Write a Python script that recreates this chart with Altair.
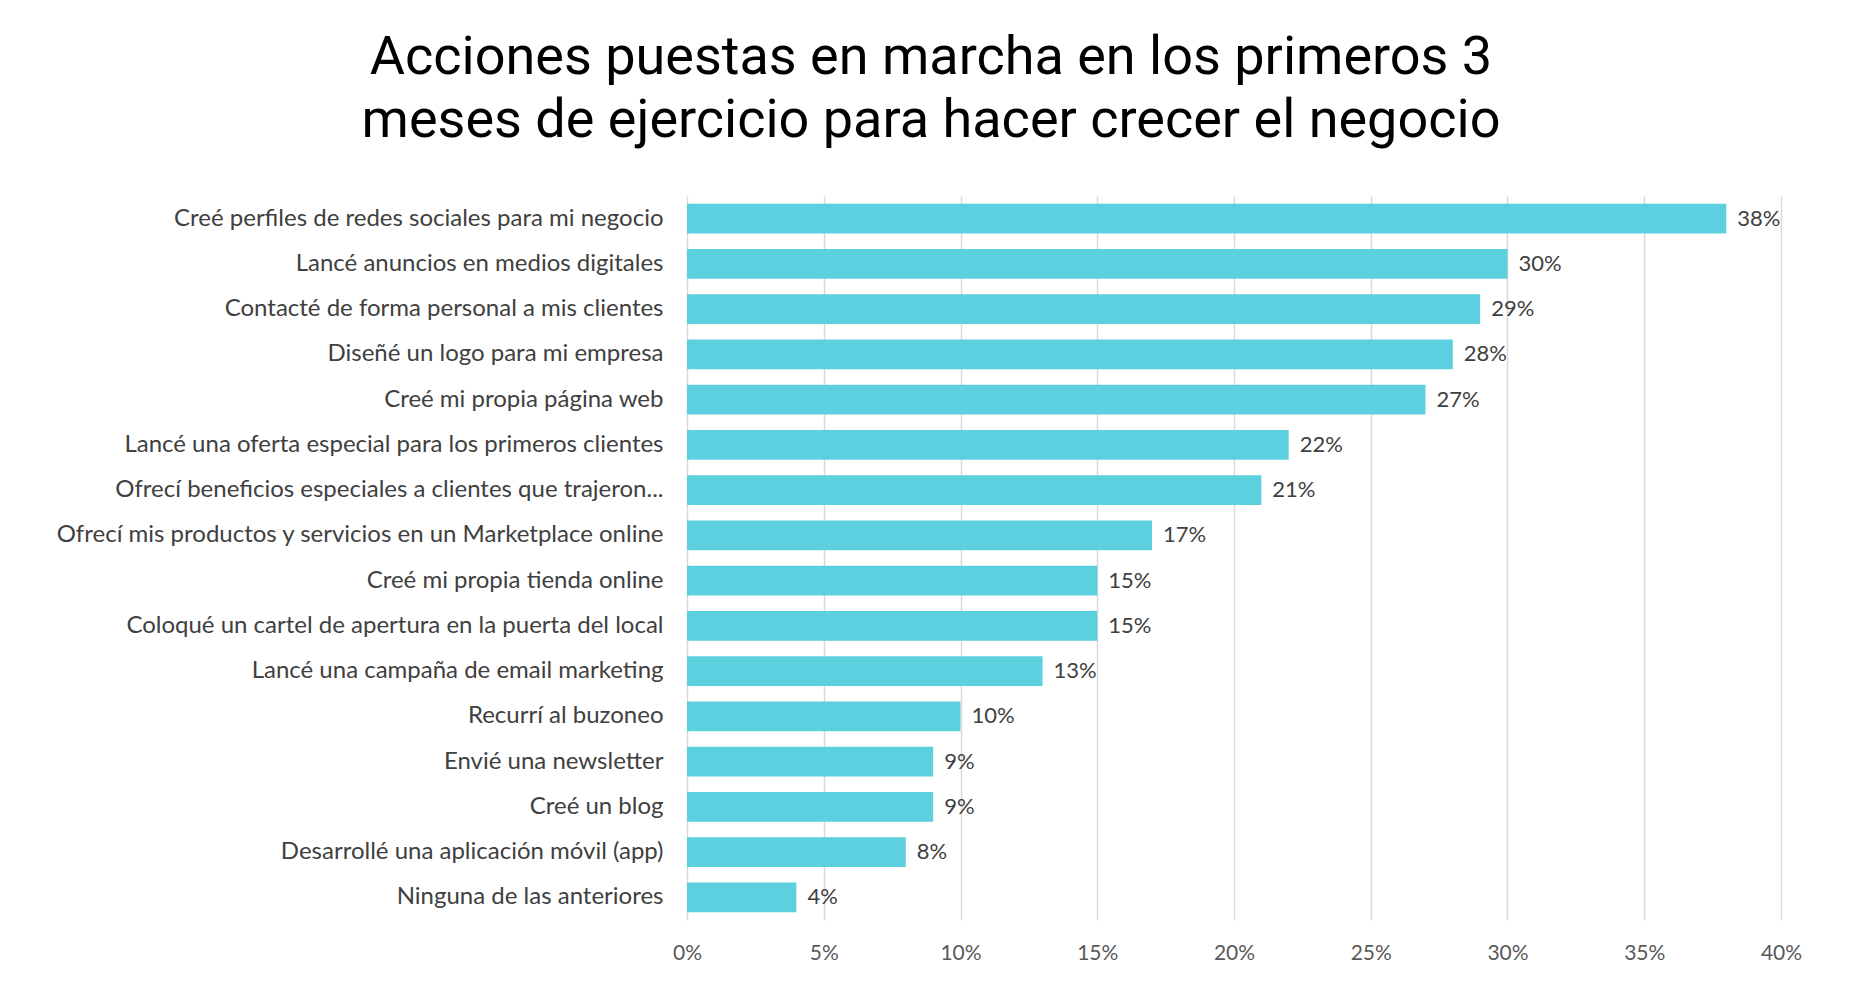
import altair as alt
import pandas as pd

categories = [
    "Creé perfiles de redes sociales para mi negocio",
    "Lancé anuncios en medios digitales",
    "Contacté de forma personal a mis clientes",
    "Diseñé un logo para mi empresa",
    "Creé mi propia página web",
    "Lancé una oferta especial para los primeros clientes",
    "Ofrecí beneficios especiales a clientes que trajeron...",
    "Ofrecí mis productos y servicios en un Marketplace online",
    "Creé mi propia tienda online",
    "Coloqué un cartel de apertura en la puerta del local",
    "Lancé una campaña de email marketing",
    "Recurrí al buzoneo",
    "Envié una newsletter",
    "Creé un blog",
    "Desarrollé una aplicación móvil (app)",
    "Ninguna de las anteriores",
]
values = [0.38, 0.30, 0.29, 0.28, 0.27, 0.22, 0.21, 0.17, 0.15, 0.15, 0.13, 0.10, 0.09, 0.09, 0.08, 0.04]
x_ticks = [0, 0.05, 0.10, 0.15, 0.20, 0.25, 0.30, 0.35, 0.40]

df = pd.DataFrame({"accion": categories, "valor": values})

y_enc = alt.Y(
    "accion:N",
    sort=categories,
    title=None,
    scale=alt.Scale(paddingInner=0.34, paddingOuter=0.17),
    axis=alt.Axis(
        labelFont="Lato", labelFontSize=24, labelColor="#404040",
        labelPadding=24, labelLimit=800, ticks=False, domain=False, grid=False,
    ),
)
x_enc = alt.X(
    "valor:Q",
    title=None,
    scale=alt.Scale(domain=[0, 0.4], nice=False),
    axis=alt.Axis(
        values=x_ticks, format=".0%", labelFont="Lato", labelFontSize=21,
        labelColor="#595959", labelPadding=22, labelFlush=False, ticks=False,
        domain=False, grid=True, gridColor="#D9D9D9", gridWidth=1.5,
    ),
)

bars = alt.Chart(df).mark_bar(color="#5DD0DF").encode(x=x_enc, y=y_enc)
labels = alt.Chart(df).mark_text(
    align="left", baseline="middle", dx=11, font="Lato", fontSize=22, color="#404040"
).encode(
    x=alt.X("valor:Q"),
    y=alt.Y("accion:N", sort=categories),
    text=alt.Text("valor:Q", format=".0%"),
)

chart = (bars + labels).properties(
    width=1094,
    height=724,
    autosize=alt.AutoSizeParams(type="none"),
    padding={"left": 679, "top": 188, "right": 73, "bottom": 62},
    title=alt.TitleParams(
        text=["Acciones puestas en marcha en los primeros 3",
              "meses de ejercicio para hacer crecer el negocio"],
        font="Roboto", fontSize=54, fontWeight="normal", color="#000000",
        anchor="middle", frame="group", dx=-303, offset=48, lineHeight=63,
    ),
).configure_view(stroke=None)

chart.save("out.html", embed_options={"renderer": "svg", "actions": False})
